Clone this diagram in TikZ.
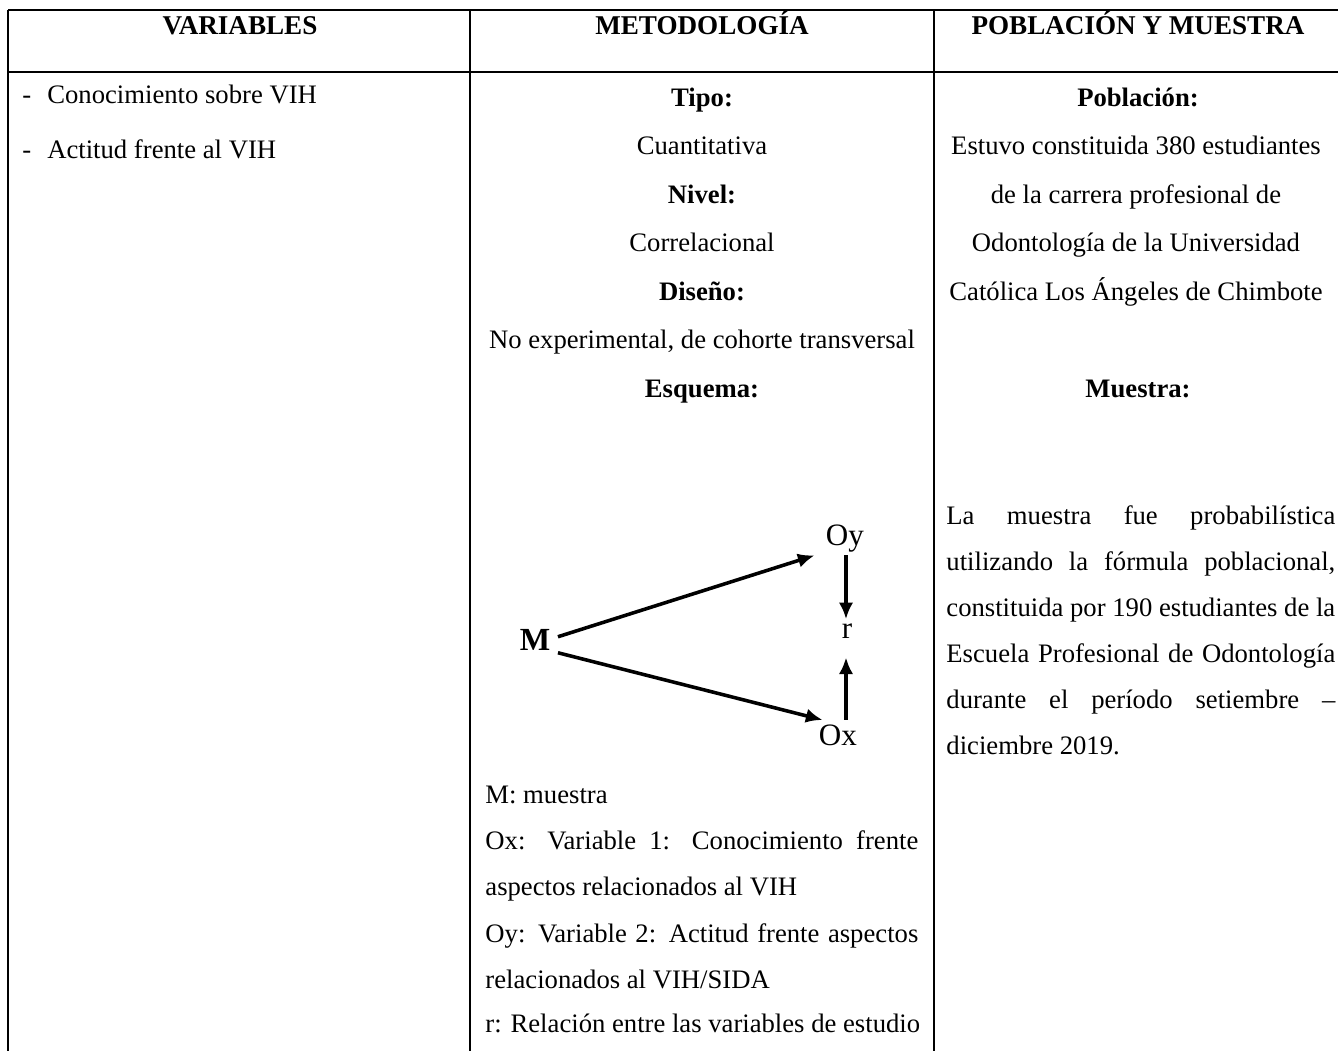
\documentclass[tikz,border=0pt]{standalone}
\usepackage{fontspec}
\setmainfont{Liberation Serif}
\usetikzlibrary{arrows.meta,positioning}

\begin{document}
\begin{tikzpicture}
		[x=0.45pt, y=-0.45pt, >={Latex[length=7.5pt,width=6.5pt]},
		 hline/.style = {line width=1.1pt},
		 vline/.style = {line width=1.2pt},
		 head/.style  = {anchor=base, inner sep=0pt, font=\fontsize{12.2}{14}\selectfont\bfseries},
		 txt/.style   = {anchor=base, inner sep=0pt, font=\fontsize{12}{14}\selectfont},
		 btxt/.style  = {txt, font=\fontsize{12}{14}\selectfont\bfseries},
		 ltxt/.style  = {txt, anchor=base west},
		 lbl/.style   = {anchor=base, inner sep=0pt, font=\fontsize{14}{16}\selectfont},
		 blbl/.style  = {lbl, font=\fontsize{14.5}{16}\selectfont\bfseries},
		 flecha/.style = {->, line width=1.6pt},
		]
		\useasboundingbox (0,0) rectangle (1338,1051);

		% table
		\draw[hline] (8,10) -- (1338,10);
		\draw[hline] (8,72) -- (1338,72);
		\draw[line width=0.75pt] (8,10) -- (8,1051);
		\draw[vline] (470,10) -- (470,1051);
		\draw[vline] (934,10) -- (934,1051);

		\node [head] (hVar) at (240,35)  {VARIABLES};
		\node [head] (hMet) at (702,35)  {METODOLOGÍA};
		\node [head] (hPob) at (1138,35) {POBLACIÓN Y MUESTRA};

		% variables
		\node [ltxt] (vConoc) at (22,104) {-\hspace{7.2pt}Conocimiento sobre VIH};
		\node [ltxt] (vActit) at (22,158) {-\hspace{7.2pt}Actitud frente al VIH};

		% metodologia
		\node [btxt] (mTipo)   at (702,106)   {Tipo:};
		\node [txt]  (mCuant)  at (702,154.5) {Cuantitativa};
		\node [btxt] (mNivel)  at (702,203)   {Nivel:};
		\node [txt]  (mCorrel) at (702,251.5) {Correlacional};
		\node [btxt] (mDiseno) at (702,300)   {Diseño:};
		\node [txt]  (mNoExp)  at (702,348.5) {No experimental, de cohorte transversal};
		\node [btxt] (mEsq)    at (702,397)   {Esquema:};

		% esquema
		\node [blbl] (M)  at (535,650) {M};
		\node [lbl]  (Oy) at (845,545) {Oy};
		\node [lbl]  (r)  at (847,638) {r};
		\node [lbl]  (Ox) at (838,745) {Ox};

		\draw[flecha] ([shift={(7.3,-2.7)}]M.east) -- ([shift={(-11,3.2)}]Oy.south west);
		\draw[flecha] ([shift={(7.3,13.3)}]M.east) -- ([shift={(4,-4)}]Ox.north west);
		\draw[flecha] ([shift={(1,3.2)}]Oy.south) -- ([shift={(-1,-3.7)}]r.north);
		\draw[flecha] ([shift={(8,-4)}]Ox.north) -- ([shift={(-1,19)}]r.south);

		\node [ltxt] (lM)   at (485,803)  {M: muestra};
		\node [ltxt] (lOx)  at (485,849)  {\makebox[194.8pt][s]{Ox: Variable 1: Conocimiento frente}};
		\node [ltxt] (lOx2) at (485,895)  {aspectos relacionados al VIH};
		\node [ltxt] (lOy)  at (485,942)  {\makebox[194.8pt][s]{Oy: Variable 2: Actitud frente aspectos}};
		\node [ltxt] (lOy2) at (485,988)  {relacionados al VIH/SIDA};
		\node [ltxt] (lr)   at (485,1032) {r: Relación entre las variables de estudio};

		% poblacion y muestra
		\node [btxt] (pPob)  at (1138,106)   {Población:};
		\node [txt]  (pL1)   at (1136,154.5) {Estuvo constituida 380 estudiantes};
		\node [txt]  (pL2)   at (1136,203)   {de la carrera profesional de};
		\node [txt]  (pL3)   at (1136,251.5) {Odontología de la Universidad};
		\node [txt]  (pL4)   at (1136,300)   {Católica Los Ángeles de Chimbote};
		\node [btxt] (pMue)  at (1138,397)   {Muestra:};

		\node [ltxt] (sL1) at (946,524) {\makebox[175pt][s]{La muestra fue probabilística}};
		\node [ltxt] (sL2) at (946,570) {\makebox[175pt][s]{utilizando la fórmula poblacional,}};
		\node [ltxt] (sL3) at (946,616) {constituida por 190 estudiantes de la};
		\node [ltxt] (sL4) at (946,662) {\makebox[175pt][s]{Escuela Profesional de Odontología}};
		\node [ltxt] (sL5) at (946,708) {\makebox[175pt][s]{durante el período setiembre –}};
		\node [ltxt] (sL6) at (946,754) {diciembre 2019.};

\end{tikzpicture}
\end{document}
